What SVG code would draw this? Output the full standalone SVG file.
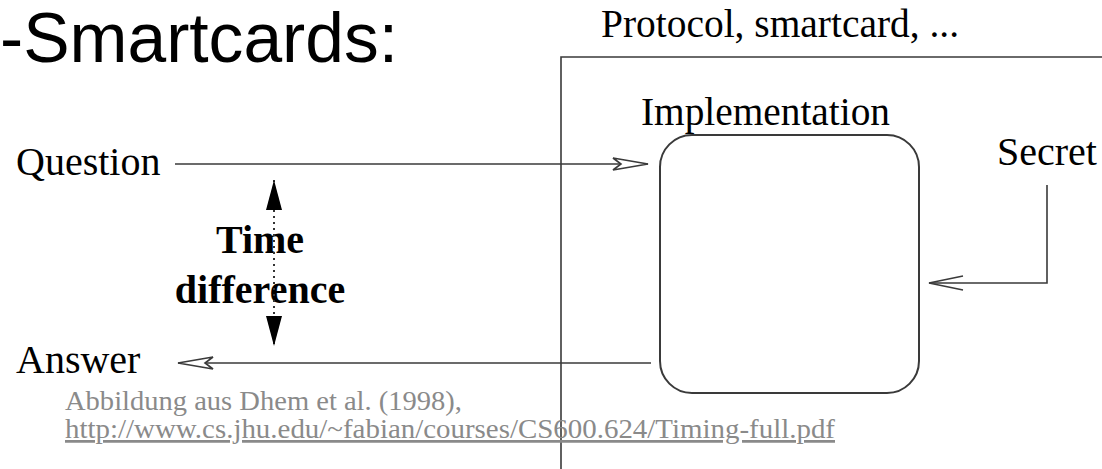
<svg xmlns="http://www.w3.org/2000/svg" width="1102" height="469" viewBox="0 0 1102 469">
  <style>
    .serif { font-family: "Liberation Serif", "Times New Roman", serif; fill: #000; }
    .lbl { font-size: 40px; }
    .bold { font-weight: bold; }
    .cap { font-family: "Liberation Serif", "Times New Roman", serif; font-size: 27.5px; fill: #8a8a8a; }
    .ln { stroke: #3a3a3a; stroke-width: 1.6; fill: none; }
    .frame { stroke: #3a3a3a; stroke-width: 1.6; fill: none; }
    .box { stroke: #3a3a3a; stroke-width: 2; fill: none; }
  </style>
  <defs>
    <marker id="hollow" viewBox="0 0 37 14" refX="36" refY="7" markerWidth="37" markerHeight="14" markerUnits="userSpaceOnUse" orient="auto">
      <path d="M1,1 L36,7 L1,13 L9,7 Z" fill="#fff" stroke="#3a3a3a" stroke-width="1.6" stroke-linejoin="miter"/>
    </marker>
    <marker id="open" viewBox="0 0 36 16" refX="35" refY="8" markerWidth="36" markerHeight="16" markerUnits="userSpaceOnUse" orient="auto">
      <path d="M1,1 L35,8 L1,15" fill="none" stroke="#3a3a3a" stroke-width="1.6"/>
    </marker>
    <marker id="solid" viewBox="0 0 30 16" refX="30" refY="8" markerWidth="30" markerHeight="16" markerUnits="userSpaceOnUse" orient="auto-start-reverse">
      <path d="M0,0 L30,8 L0,16 Z" fill="#000"/>
    </marker>
  </defs>

  <rect width="1102" height="469" fill="#fff"/>

  <text x="0" y="62" font-family="'Liberation Sans', Arial, sans-serif" font-size="70" fill="#000" textLength="398" lengthAdjust="spacingAndGlyphs">-Smartcards:</text>

  <g id="protocol">
    <text class="serif lbl" x="601" y="37" textLength="358" lengthAdjust="spacingAndGlyphs">Protocol, smartcard, ...</text>
    <path class="frame" d="M561,469 L561,57 L1102,57"/>
  </g>

  <g id="implementation">
    <text class="serif lbl" x="641" y="125" textLength="249" lengthAdjust="spacingAndGlyphs">Implementation</text>
    <rect class="box" x="660" y="135" width="259" height="258" rx="32" ry="32"/>
  </g>

  <g id="question">
    <text class="serif lbl" x="16" y="175">Question</text>
  </g>

  <g id="answer">
    <text class="serif lbl" x="16" y="373">Answer</text>
  </g>

  <g id="secret">
    <text class="serif lbl" x="997" y="165">Secret</text>
  </g>

  <g id="time-difference">
    <text class="serif lbl bold" x="260" y="253" text-anchor="middle">Time</text>
    <text class="serif lbl bold" x="260" y="303" text-anchor="middle">difference</text>
  </g>

  <g id="connectors">
    <path class="ln" d="M175,164 L648,164" marker-end="url(#hollow)"/>
    <path class="ln" d="M651,363 L178,363" marker-end="url(#hollow)"/>
    <path class="ln" d="M1047,185 L1047,283 L929,283" marker-end="url(#open)"/>
    <path d="M274,180 L274,346" stroke="#333" stroke-width="2" stroke-dasharray="2,4" fill="none" marker-start="url(#solid)" marker-end="url(#solid)"/>
  </g>

  <g id="caption">
    <text class="cap" x="65" y="410" textLength="397" lengthAdjust="spacingAndGlyphs">Abbildung aus Dhem et al. (1998),</text>
    <text class="cap" x="65" y="438" textLength="770" lengthAdjust="spacingAndGlyphs" text-decoration="underline">http://www.cs.jhu.edu/~fabian/courses/CS600.624/Timing-full.pdf</text>
  </g>
</svg>
